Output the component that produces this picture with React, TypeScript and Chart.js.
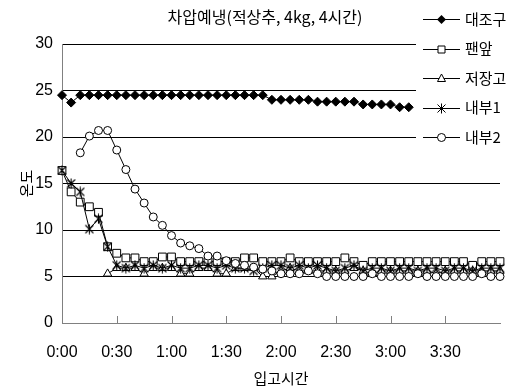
import React, { useEffect, useRef } from 'react';
import { Chart, registerables } from 'chart.js';

Chart.register(...registerables);

const TITLE = '차압예냉(적상추, 4kg, 4시간)';
const X_TITLE = '입고시간';
const Y_TITLE = '온도';

const timeLabels = [
  '0:00', '0:05', '0:10', '0:15', '0:20', '0:25', '0:30', '0:35', '0:40', '0:45', '0:50', '0:55',
  '1:00', '1:05', '1:10', '1:15', '1:20', '1:25', '1:30', '1:35', '1:40', '1:45', '1:50', '1:55',
  '2:00', '2:05', '2:10', '2:15', '2:20', '2:25', '2:30', '2:35', '2:40', '2:45', '2:50', '2:55',
  '3:00', '3:05', '3:10', '3:15', '3:20', '3:25', '3:30', '3:35', '3:40', '3:45', '3:50', '3:55',
  '4:00',
];

const seriesNames = ['대조구', '팬앞', '저장고', '내부1', '내부2'];

const control = [
  24.5, 23.7, 24.5, 24.5, 24.5, 24.5, 24.5, 24.5, 24.5, 24.5, 24.5, 24.5,
  24.5, 24.5, 24.5, 24.5, 24.5, 24.5, 24.5, 24.5, 24.5, 24.5, 24.5, 24.0,
  24.0, 24.0, 24.0, 24.0, 23.8, 23.8, 23.8, 23.8, 23.8, 23.5, 23.5, 23.5,
  23.5, 23.2, 23.2, null, null, null, null, null, null, null, null, null,
  null,
];

const fanFront = [
  16.4, 14.1, 13.0, 12.5, 11.9, 8.2, 7.5, 7.0, 7.0, 6.6, 6.6, 7.1,
  7.1, 6.6, 6.6, 6.6, 6.6, 6.6, 6.6, 6.6, 7.0, 7.0, 6.6, 6.6,
  6.6, 7.0, 6.6, 6.6, 6.6, 6.6, 6.6, 7.0, 6.6, 6.2, 6.6, 6.6,
  6.6, 6.6, 6.6, 6.6, 6.6, 6.6, 6.6, 6.6, 6.6, 6.2, 6.6, 6.6,
  6.6,
];

const storage = [
  null, null, null, null, null, 5.3, 5.9, 5.9, 5.9, 5.3, 5.9, 5.9,
  5.9, 5.3, 5.3, 5.9, 5.9, 5.3, 5.3, 5.9, 5.9, 5.9, 5.0, 5.0,
  5.6, 5.9, 5.6, 5.6, 5.6, 5.6, 5.6, 5.6, 5.9, 5.6, 5.3, 5.6,
  5.6, 5.6, 5.6, 5.6, 5.6, 5.3, 5.6, 5.6, 5.6, 5.6, 5.6, 5.6,
  5.6,
];

const inside1 = [
  16.4, 15.0, 14.1, 10.1, 11.2, 8.2, 6.2, 5.9, 6.2, 5.9, 6.2, 5.9,
  6.2, 5.9, 5.9, 6.2, 6.2, 5.9, 6.2, 5.9, 5.9, 5.6, 5.9, 6.2,
  6.2, 5.9, 6.2, 5.9, 6.2, 5.9, 5.6, 5.9, 6.2, 5.6, 5.9, 5.9,
  5.6, 5.9, 5.9, 5.6, 5.9, 5.9, 5.6, 5.9, 5.9, 5.6, 5.9, 5.9,
  5.9,
];

const inside2 = [
  null, null, 18.3, 20.1, 20.7, 20.7, 18.6, 16.5, 14.4, 12.9, 11.4, 10.5,
  9.4, 8.6, 8.3, 8.0, 7.2, 7.2, 6.7, 6.4, 6.2, 6.0, 5.8, 5.6,
  5.3, 5.3, 5.3, 5.6, 5.3, 5.0, 5.0, 5.0, 5.0, 5.0, 5.3, 5.0,
  5.0, 5.0, 5.0, 5.3, 5.0, 5.0, 5.0, 5.0, 5.0, 5.0, 5.3, 5.0,
  5.0,
];

const yTicks = [0, 5, 10, 15, 20, 25, 30];

const KR_FONT = '"Noto Sans CJK KR", "Noto Sans", sans-serif';
const NUM_FONT = '"Liberation Sans", Arial, sans-serif';

function makeAsterisk(): HTMLCanvasElement {
  const c = document.createElement('canvas');
  c.width = 11;
  c.height = 11;
  const g = c.getContext('2d')!;
  g.strokeStyle = '#000';
  g.lineWidth = 1.1;
  g.beginPath();
  g.moveTo(1.5, 1.5);
  g.lineTo(9.5, 9.5);
  g.moveTo(9.5, 1.5);
  g.lineTo(1.5, 9.5);
  g.moveTo(5.5, 0.5);
  g.lineTo(5.5, 10.5);
  g.stroke();
  return c;
}

function drawMarker(ctx: CanvasRenderingContext2D, kind: string, x: number, y: number) {
  ctx.save();
  ctx.strokeStyle = '#000';
  ctx.fillStyle = '#fff';
  ctx.lineWidth = 1;
  ctx.beginPath();
  if (kind === 'diamond') {
    ctx.fillStyle = '#000';
    ctx.moveTo(x, y - 4.5);
    ctx.lineTo(x + 4.5, y);
    ctx.lineTo(x, y + 4.5);
    ctx.lineTo(x - 4.5, y);
    ctx.closePath();
    ctx.fill();
  } else if (kind === 'square') {
    ctx.rect(x - 3.5, y - 3.5, 7, 7);
    ctx.fill();
    ctx.stroke();
  } else if (kind === 'triangle') {
    ctx.moveTo(x, y - 4.5);
    ctx.lineTo(x + 4, y + 3);
    ctx.lineTo(x - 4, y + 3);
    ctx.closePath();
    ctx.fill();
    ctx.stroke();
  } else if (kind === 'asterisk') {
    ctx.moveTo(x - 4, y - 4);
    ctx.lineTo(x + 4, y + 4);
    ctx.moveTo(x + 4, y - 4);
    ctx.lineTo(x - 4, y + 4);
    ctx.moveTo(x, y - 5);
    ctx.lineTo(x, y + 5);
    ctx.stroke();
  } else {
    ctx.arc(x, y, 4, 0, Math.PI * 2);
    ctx.fill();
    ctx.stroke();
  }
  ctx.restore();
}

const markerKinds = ['diamond', 'square', 'triangle', 'asterisk', 'circle'];

const overlayPlugin = {
  id: 'overlay',
  afterDraw(chart: any) {
    const ctx: CanvasRenderingContext2D = chart.ctx;
    const xs = chart.scales.x;
    const area = chart.chartArea;
    ctx.save();
    // inner tick marks on the x axis
    ctx.strokeStyle = '#808080';
    ctx.lineWidth = 1;
    for (let i = 6; i < timeLabels.length - 1; i += 6) {
      const px = Math.round(xs.getPixelForValue(i)) + 0.5;
      ctx.beginPath();
      ctx.moveTo(px, area.bottom);
      ctx.lineTo(px, area.bottom - 7);
      ctx.stroke();
    }
    // title
    ctx.fillStyle = '#000';
    ctx.font = '16px ' + KR_FONT;
    ctx.textAlign = 'center';
    ctx.textBaseline = 'middle';
    ctx.fillText(TITLE, 265, 17);
    // legend box (white, covers the plot)
    ctx.fillStyle = '#fff';
    ctx.fillRect(416, 0, 104, 152);
    const rows = [19, 48.5, 78, 107.5, 137];
    ctx.font = '15px ' + KR_FONT;
    ctx.textAlign = 'left';
    seriesNames.forEach((name, i) => {
      const y = rows[i];
      ctx.strokeStyle = '#000';
      ctx.lineWidth = 1;
      ctx.beginPath();
      ctx.moveTo(423, Math.round(y) + 0.5);
      ctx.lineTo(460, Math.round(y) + 0.5);
      ctx.stroke();
      drawMarker(ctx, markerKinds[i], 441.5, Math.round(y) + 0.5);
      ctx.fillStyle = '#000';
      ctx.fillText(name, 465, y);
    });
    ctx.restore();
  },
};

export default function App() {
  const ref = useRef<HTMLCanvasElement | null>(null);

  useEffect(() => {
    if (!ref.current) return;
    const asterisk = makeAsterisk();
    const common = {
      borderColor: '#000',
      borderWidth: 1,
      pointBorderColor: '#000',
      pointBorderWidth: 1,
      tension: 0,
      fill: false,
    };
    const chart = new Chart(ref.current, {
      type: 'line',
      data: {
        labels: timeLabels,
        datasets: [
          { ...common, label: seriesNames[0], data: control, pointStyle: 'rectRot', pointRadius: 4.5, pointBackgroundColor: '#000', order: 5 },
          { ...common, label: seriesNames[1], data: fanFront, pointStyle: 'rect', pointRadius: 5.5, pointBackgroundColor: '#fff', order: 4 },
          { ...common, label: seriesNames[2], data: storage, pointStyle: 'triangle', pointRadius: 4.8, pointBackgroundColor: '#fff', order: 3 },
          { ...common, label: seriesNames[3], data: inside1, pointStyle: asterisk, pointRadius: 5, pointBackgroundColor: '#fff', order: 2 },
          { ...common, label: seriesNames[4], data: inside2, pointStyle: 'circle', pointRadius: 4, pointBackgroundColor: '#fff', order: 1 },
        ],
      },
      options: {
        responsive: false,
        animation: false,
        devicePixelRatio: 1,
        layout: { padding: { top: 44, right: 13, left: 0, bottom: 0 } },
        plugins: {
          legend: { display: false },
          title: { display: false },
          tooltip: { enabled: false },
        },
        scales: {
          x: {
            type: 'category',
            offset: false,
            afterFit: (s: any) => { s.height = 69; },
            grid: { drawOnChartArea: false, drawTicks: false },
            border: { color: '#808080', width: 1 },
            ticks: {
              autoSkip: false,
              maxRotation: 0,
              minRotation: 0,
              padding: 20,
              color: '#000',
              font: { family: NUM_FONT, size: 16 },
              callback: (_v: any, i: number) => (i % 6 === 0 && i < timeLabels.length - 1 ? timeLabels[i] : ''),
            },
            title: {
              display: true,
              text: X_TITLE,
              color: '#000',
              font: { family: KR_FONT, size: 15 },
              padding: { top: 0, bottom: 5 },
            },
          },
          y: {
            min: yTicks[0],
            max: yTicks[yTicks.length - 1],
            afterFit: (s: any) => { s.width = 62; },
            afterBuildTicks: (s: any) => { s.ticks = yTicks.map((v) => ({ value: v })); },
            grid: {
              color: (c: any) => (c.tick && c.tick.value === 0 ? 'rgba(0,0,0,0)' : '#000'),
              drawTicks: false,
            },
            border: { color: '#808080', width: 1 },
            ticks: {
              padding: 9,
              color: '#000',
              font: { family: NUM_FONT, size: 16 },
            },
            title: {
              display: true,
              text: Y_TITLE,
              color: '#000',
              font: { family: KR_FONT, size: 15 },
              padding: { top: 17, bottom: 0 },
            },
          },
        },
      },
      plugins: [overlayPlugin],
    } as any);
    return () => chart.destroy();
  }, []);

  return (
    <div style={{ position: 'fixed', left: 0, top: 0, width: 520, height: 392, background: '#fff' }}>
      <canvas ref={ref} width={520} height={392} style={{ width: 520, height: 392, display: 'block' }} />
    </div>
  );
}
